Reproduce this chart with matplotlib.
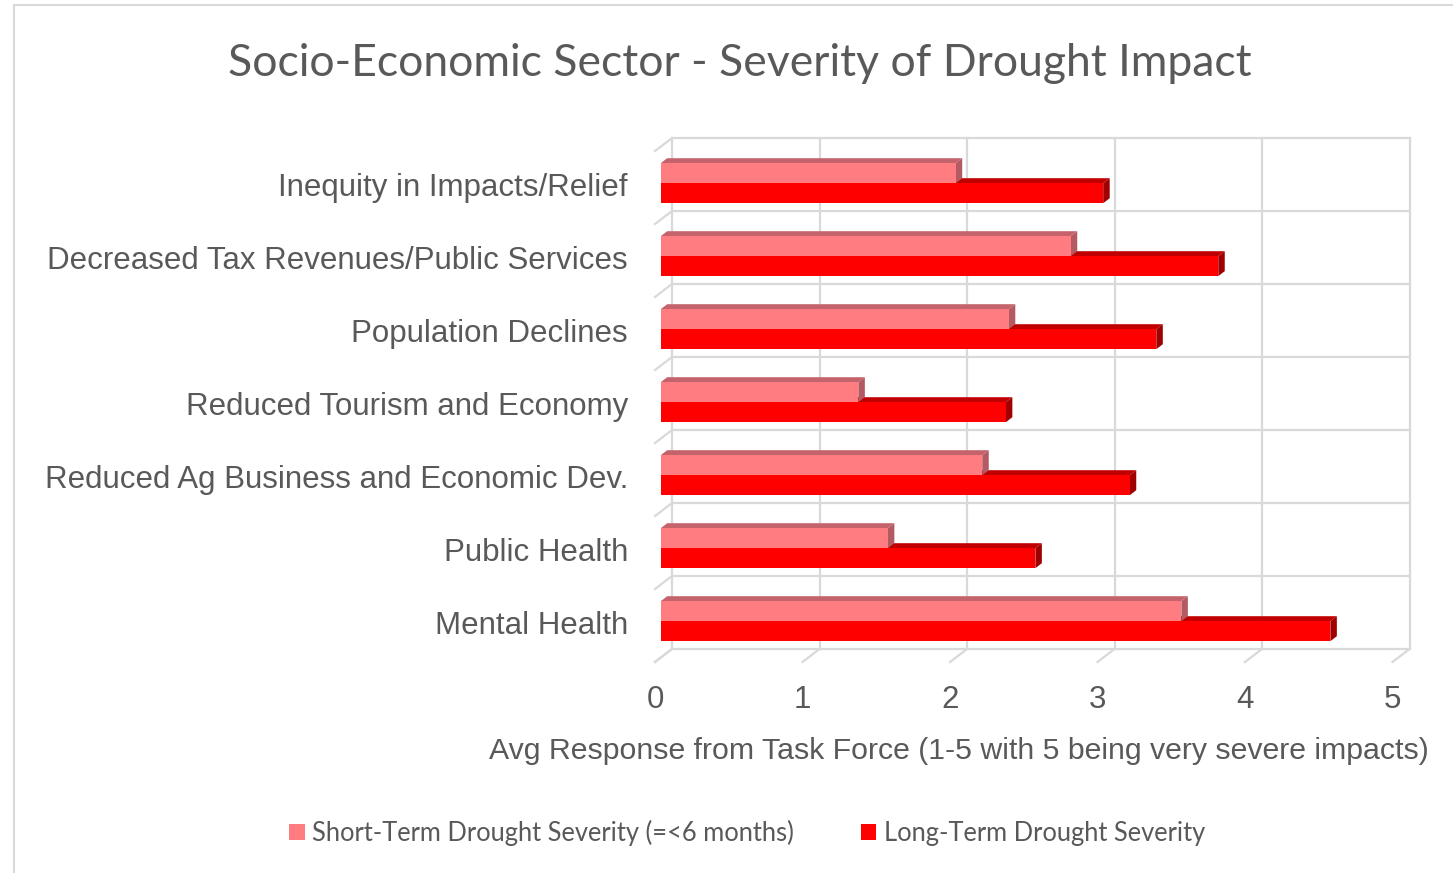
import matplotlib
matplotlib.use("Agg")
import matplotlib.pyplot as plt
from matplotlib.patches import Polygon, Rectangle, Patch
from matplotlib.lines import Line2D

# ---------------- data ----------------
categories = [
    "Inequity in Impacts/Relief",
    "Decreased Tax Revenues/Public Services",
    "Population Declines",
    "Reduced Tourism and Economy",
    "Reduced Ag Business and Economic Dev.",
    "Public Health",
    "Mental Health",
]
short_term = [2.00, 2.78, 2.36, 1.34, 2.18, 1.54, 3.53]
long_term = [3.00, 3.78, 3.36, 2.34, 3.18, 2.54, 4.54]
x_ticks = [0, 1, 2, 3, 4, 5]
series_names = ["Short-Term Drought Severity (=<6 months)", "Long-Term Drought Severity"]
title = "Socio-Economic Sector - Severity of Drought Impact"
x_label = "Avg Response from Task Force (1-5 with 5 being very severe impacts)"

# ---------------- style ----------------
W, H, DPI = 1453, 873, 100
TXT = "#595959"
GRID = "#D9D9D9"
short_cols = ("#FF7C80", "#C4636B", "#B35A62")   # front, top, side
long_cols = ("#FF0000", "#C00000", "#A00000")

fig = plt.figure(figsize=(W / DPI, H / DPI), dpi=DPI)
fig.patch.set_facecolor("white")

# plot plane (bar front plane) in pixels
L, R, T, B = 660.7, 1398.2, 146.7, 657.7
ax = fig.add_axes([L / W, 1 - B / H, (R - L) / W, (B - T) / H])
ax.set_xlim(0, 5)
n = len(categories)
ax.set_ylim(n - 0.5, -0.5)
ax.axis("off")

px_x = 5 / (R - L)          # data units per pixel (x)
px_y = n / (B - T)          # data units per pixel (y, downward)

# depth offsets (pixels -> data)
bx, by = 11.3 * px_x, -8.7 * px_y     # back wall
fx, fy = -5.7 * px_x, 4.3 * px_y      # front plane
dx, dy = 6.5 * px_x, -5.0 * px_y      # bar depth

lw = 1.6
# back wall grid
for k in x_ticks:
    ax.add_line(Line2D([k + bx, k + bx], [-0.5 + by, n - 0.5 + by], color=GRID, lw=lw, zorder=1, clip_on=False))
    ax.add_line(Line2D([k + bx, k + fx], [n - 0.5 + by, n - 0.5 + fy], color=GRID, lw=lw, zorder=1, clip_on=False))
for j in range(n + 1):
    yb = j - 0.5
    ax.add_line(Line2D([bx, 5 + bx], [yb + by, yb + by], color=GRID, lw=lw, zorder=1, clip_on=False))
    ax.add_line(Line2D([bx, fx], [yb + by, yb + fy], color=GRID, lw=lw, zorder=1, clip_on=False))

bar_h = 20.0 * px_y


def bar3d(v, y_top, cols, z):
    y_bot = y_top + bar_h
    ax.add_patch(Polygon([(0, y_top), (v, y_top), (v + dx, y_top + dy), (dx, y_top + dy)],
                         closed=True, facecolor=cols[1], edgecolor="none", zorder=z))
    ax.add_patch(Polygon([(v, y_top), (v, y_bot), (v + dx, y_bot + dy), (v + dx, y_top + dy)],
                         closed=True, facecolor=cols[2], edgecolor="none", zorder=z))
    ax.add_patch(Rectangle((0, y_top), v, bar_h, facecolor=cols[0], edgecolor="none", zorder=z + 0.1))


for i in range(n):
    bar3d(long_term[i], i, long_cols, 3)
    bar3d(short_term[i], i - bar_h, short_cols, 4)

LAB_FS = 22.5
# category labels
for i, c in enumerate(categories):
    ax.text((628 - L) * px_x, i + fy, c, ha="right", va="center", fontsize=LAB_FS,
            color=TXT, family="Liberation Sans", clip_on=False)

# x tick labels
for k in x_ticks:
    ax.text(k + fx, (700 - T) * px_y - 0.5, str(k), ha="center", va="center", fontsize=LAB_FS,
            color=TXT, family="Liberation Sans", clip_on=False)

# x axis title
fig.text(489 / W, 1 - 751 / H, x_label, ha="left", va="center", fontsize=21.8,
         color=TXT, family="Liberation Sans")

# chart title
fig.text(740 / W, 1 - 63 / H, title, ha="center", va="center", fontsize=32,
         color=TXT, family="Lato")

# legend
handles = [Patch(facecolor=short_cols[0], edgecolor="none"), Patch(facecolor=long_cols[0], edgecolor="none")]
leg = fig.legend(handles, series_names, loc="center", bbox_to_anchor=(747 / W, 1 - 833 / H), ncol=2,
                 frameon=False, handlelength=0.6, handleheight=0.6, handletextpad=0.3,
                 columnspacing=2.6, prop={"family": "Lato", "size": 18.4})
for t in leg.get_texts():
    t.set_color(TXT)

# outer chart border
fig.add_artist(Rectangle((14 / W, -0.05), 1.2, 1 - 5 / H + 0.05, transform=fig.transFigure,
                         facecolor="none", edgecolor=GRID, lw=1.5, zorder=0))

fig.savefig("out.png", dpi=DPI)
